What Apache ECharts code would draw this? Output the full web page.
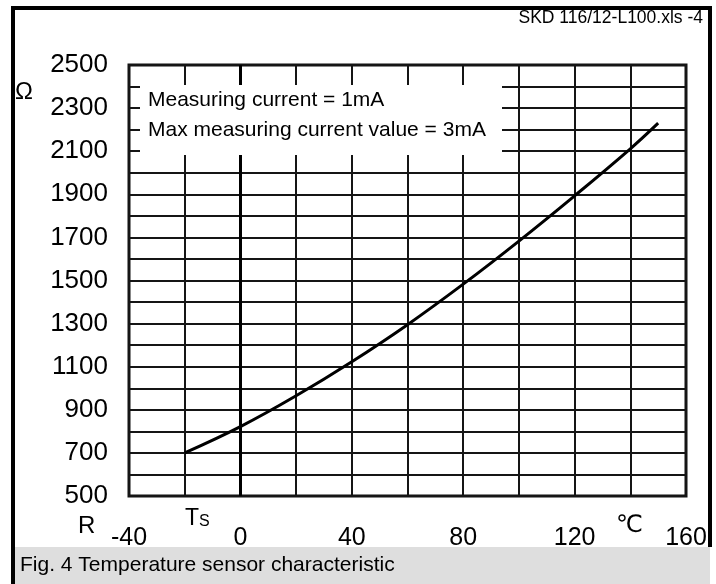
<!DOCTYPE html>
<html>
<head>
<meta charset="utf-8">
<script src="https://cdn.jsdelivr.net/npm/echarts@6/dist/echarts.min.js"></script>
<style>
html,body{margin:0;padding:0;background:#fff;}
#chart{width:716px;height:584px;}
</style>
</head>
<body>
<div id="chart"></div>
<script>
// Data
const temperatures = [-20, 0, 20, 40, 60, 80, 100, 120, 140, 150];
const resistances = [700, 822, 965, 1123, 1295, 1483, 1683, 1893, 2111, 2230];
const xTickLabels = [-40, 0, 40, 80, 120, 160];
const yTickLabels = [500, 700, 900, 1100, 1300, 1500, 1700, 1900, 2100, 2300, 2500];
const headerText = 'SKD 116/12-L100.xls -4';
const noteLines = ['Measuring current = 1mA', 'Max measuring current value = 3mA'];
const captionText = 'Fig. 4 Temperature sensor characteristic';

const FONT = "'Liberation Sans', Arial, Helvetica, sans-serif";
const chart = echarts.init(document.getElementById('chart'), null, {renderer: 'canvas'});

const option = {
  animation: false,
  backgroundColor: '#fff',
  grid: {left: 129, right: 30, top: 65, bottom: 88, show: true, borderColor: '#111', borderWidth: 3, backgroundColor: 'transparent'},
  xAxis: {
    type: 'value', min: -40, max: 160, interval: 20,
    axisLine: {show: false}, axisTick: {show: false},
    splitLine: {show: true, lineStyle: {color: '#151515', width: 2}},
    axisLabel: {
      fontFamily: FONT, fontSize: 25, color: '#000', margin: 30, showMaxLabel: true,
      formatter: v => xTickLabels.includes(v) ? String(v) : ''
    }
  },
  yAxis: {
    type: 'value', min: 500, max: 2500, interval: 100,
    axisLine: {show: false}, axisTick: {show: false},
    splitLine: {show: true, lineStyle: {color: '#151515', width: 2}},
    axisLabel: {
      fontFamily: FONT, fontSize: 26, color: '#000', margin: 21,
      formatter: v => yTickLabels.includes(v) ? String(v) : ''
    }
  },
  series: [{
    type: 'line',
    data: temperatures.map((t, i) => [t, resistances[i]]),
    smooth: 0.4,
    showSymbol: false,
    lineStyle: {color: '#000', width: 3},
    z: 5,
    markLine: {
      silent: true, symbol: 'none', label: {show: false},
      lineStyle: {color: '#000', width: 3, type: 'solid'},
      data: [{xAxis: 0}]
    }
  }],
  graphic: [
    // outer frame
    {type: 'line', shape: {x1: 13, y1: 8, x2: 13, y2: 584}, style: {stroke: '#000', lineWidth: 4}, z: 50},
    {type: 'line', shape: {x1: 11, y1: 8, x2: 712, y2: 8}, style: {stroke: '#000', lineWidth: 4}, z: 50},
    {type: 'line', shape: {x1: 710, y1: 6, x2: 710, y2: 547}, style: {stroke: '#000', lineWidth: 4}, z: 50},
    // caption band
    {type: 'rect', shape: {x: 15, y: 547, width: 695, height: 37}, style: {fill: '#dedede'}, z: 40},
    {type: 'text', left: 20, top: 555, style: {text: captionText, font: '21px ' + FONT, fill: '#000'}, z: 60},
    // header
    {type: 'text', right: 13, top: 9, style: {text: headerText, font: '17.5px ' + FONT, fill: '#000'}, z: 60},
    // note box
    {type: 'rect', shape: {x: 140, y: 85, width: 362, height: 70}, style: {fill: '#fff'}, z: 100},
    {type: 'text', left: 148, top: 90, style: {text: noteLines[0], font: '21px ' + FONT, fill: '#000'}, z: 110},
    {type: 'text', left: 148, top: 120, style: {text: noteLines[1], font: '21px ' + FONT, fill: '#000'}, z: 110},
    // axis unit / name labels
    {type: 'text', left: 15, top: 80, style: {text: 'Ω', font: '24px ' + FONT, fill: '#000'}, z: 60},
    {type: 'text', left: 78, top: 514, style: {text: 'R', font: '24px ' + FONT, fill: '#000'}, z: 60},
    {type: 'text', left: 185, top: 507, style: {
      text: '{a|T}{b|S}', fill: '#000',
      rich: {a: {fontFamily: FONT, fontSize: 23, verticalAlign: 'bottom'}, b: {fontFamily: FONT, fontSize: 16, verticalAlign: 'bottom'}}
    }, z: 60},
    {type: 'text', left: 616, top: 513, style: {text: '℃', font: "24px 'Liberation Sans', 'DejaVu Sans', 'Noto Sans CJK SC', sans-serif", fill: '#000'}, z: 60}
  ]
};
chart.setOption(option);
</script>
</body>
</html>
